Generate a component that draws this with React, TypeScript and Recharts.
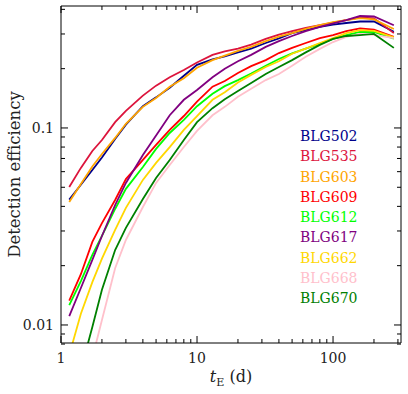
import { Legend, Line, LineChart, XAxis, YAxis } from "recharts";

// Einstein timescale grid (days)
const tE = [1.15, 1.4, 1.7, 2, 2.5, 3, 4, 5, 6.3, 8, 10, 13, 16, 20, 25, 32, 40, 50, 63, 80, 100, 125, 158, 200, 280];

// detection efficiency per field
const BLG502 = [0.0433, 0.0515, 0.0612, 0.0708, 0.0879, 0.104, 0.129, 0.143, 0.16, 0.184, 0.209, 0.223, 0.231, 0.242, 0.253, 0.27, 0.285, 0.303, 0.314, 0.326, 0.335, 0.341, 0.347, 0.347, 0.308];
const BLG535 = [0.0502, 0.0627, 0.0764, 0.0869, 0.107, 0.122, 0.146, 0.164, 0.181, 0.197, 0.215, 0.235, 0.245, 0.253, 0.265, 0.283, 0.298, 0.31, 0.322, 0.333, 0.343, 0.353, 0.364, 0.36, 0.303];
const BLG603 = [0.0421, 0.0519, 0.0638, 0.0738, 0.089, 0.105, 0.128, 0.142, 0.162, 0.179, 0.202, 0.221, 0.233, 0.246, 0.258, 0.276, 0.291, 0.303, 0.318, 0.333, 0.345, 0.353, 0.361, 0.356, 0.318];
const BLG609 = [0.0133, 0.0181, 0.0264, 0.0329, 0.0431, 0.055, 0.0688, 0.082, 0.0977, 0.115, 0.136, 0.162, 0.173, 0.19, 0.206, 0.221, 0.24, 0.255, 0.27, 0.286, 0.296, 0.31, 0.32, 0.316, 0.29];
const BLG612 = [0.0126, 0.0167, 0.0227, 0.0283, 0.0388, 0.0491, 0.0634, 0.0783, 0.0943, 0.11, 0.129, 0.149, 0.163, 0.175, 0.189, 0.207, 0.224, 0.239, 0.253, 0.267, 0.283, 0.296, 0.307, 0.307, 0.284];
const BLG617 = [0.0111, 0.0154, 0.0214, 0.0283, 0.0406, 0.0526, 0.0729, 0.0916, 0.116, 0.139, 0.156, 0.181, 0.2, 0.218, 0.235, 0.258, 0.276, 0.293, 0.31, 0.326, 0.34, 0.353, 0.37, 0.368, 0.332];
const BLG662 = [0.00705, 0.0114, 0.0165, 0.0217, 0.0304, 0.0393, 0.0545, 0.0665, 0.08, 0.0977, 0.115, 0.139, 0.152, 0.17, 0.186, 0.204, 0.218, 0.238, 0.253, 0.27, 0.286, 0.303, 0.314, 0.311, 0.288];
const BLG668 = [0.00226, 0.00393, 0.0068, 0.0106, 0.0194, 0.027, 0.0397, 0.0526, 0.0649, 0.08, 0.0966, 0.116, 0.128, 0.144, 0.158, 0.175, 0.188, 0.207, 0.23, 0.252, 0.273, 0.29, 0.3, 0.297, 0.286];
const BLG670 = [0.00345, 0.00592, 0.00977, 0.0151, 0.024, 0.0311, 0.0436, 0.0557, 0.0688, 0.0869, 0.107, 0.126, 0.14, 0.154, 0.169, 0.188, 0.204, 0.221, 0.242, 0.264, 0.283, 0.293, 0.296, 0.3, 0.255];

const fields = ["BLG502", "BLG535", "BLG603", "BLG609", "BLG612", "BLG617", "BLG662", "BLG668", "BLG670"];
const values = [BLG502, BLG535, BLG603, BLG609, BLG612, BLG617, BLG662, BLG668, BLG670];
const colors = ["#00008b", "#dc143c", "#ffa500", "#ff0000", "#00ff00", "#800080", "#ffd700", "#ffc0cb", "#008000"];

const xMajor = [1, 10, 100];
const xMinor = [2, 3, 4, 5, 6, 7, 8, 9, 20, 30, 40, 50, 60, 70, 80, 90, 200, 300];
const yMajor = [0.01, 0.1];
const yMinor = [0.008, 0.009, 0.02, 0.03, 0.04, 0.05, 0.06, 0.07, 0.08, 0.09, 0.2, 0.3, 0.4];

const data = tE.map((t, i) => {
  const row: Record<string, number> = { tE: t };
  fields.forEach((f, k) => {
    row[f] = values[k][i];
  });
  return row;
});

const FONT = "'DejaVu Serif', serif";

function XTick({ x, y, payload, side }: any) {
  const major = xMajor.includes(payload.value);
  const len = major ? 7 : 4;
  const dir = side === "bottom" ? -1 : 1;
  return (
    <g>
      <line x1={x} x2={x} y1={y} y2={y + dir * len} stroke="#000" strokeWidth={1} />
      {side === "bottom" && major && (
        <text x={x} y={y + 20} textAnchor="middle" fontSize={14} style={{ fontFamily: FONT }} fill="#222">
          {String(payload.value)}
        </text>
      )}
    </g>
  );
}

function YTick({ x, y, payload, side }: any) {
  const major = yMajor.includes(payload.value);
  const len = major ? 7 : 4;
  const dir = side === "left" ? 1 : -1;
  return (
    <g>
      <line x1={x} x2={x + dir * len} y1={y} y2={y} stroke="#000" strokeWidth={1} />
      {side === "left" && major && (
        <text x={x - 7} y={y + 5} textAnchor="end" fontSize={14} style={{ fontFamily: FONT }} fill="#222">
          {String(payload.value)}
        </text>
      )}
    </g>
  );
}

function XLabel({ viewBox }: any) {
  const cx = viewBox.x + viewBox.width / 2;
  return (
    <text x={cx} y={viewBox.y + 39} textAnchor="middle" fontSize={16} style={{ fontFamily: FONT }} fill="#222">
      <tspan fontStyle="italic">t</tspan>
      <tspan fontSize={11} dy={4}>E</tspan>
      <tspan dy={-4}> (d)</tspan>
    </text>
  );
}

function YLabel({ viewBox }: any) {
  const cy = viewBox.y + viewBox.height / 2;
  return (
    <text
      x={20}
      y={cy}
      transform={`rotate(-90 20 ${cy})`}
      textAnchor="middle"
      fontSize={16.5}
      style={{ fontFamily: FONT }}
      fill="#222"
    >
      Detection efficiency
    </text>
  );
}

function FieldLegend({ payload }: any) {
  return (
    <div>
      {(payload || []).map((p: any) => (
        <div
          key={p.value}
          style={{ color: p.color, fontSize: 14, lineHeight: "20.3px", fontFamily: FONT, whiteSpace: "nowrap" }}
        >
          {p.value}
        </div>
      ))}
    </div>
  );
}

export default function App() {
  return (
    <div style={{ position: "absolute", left: 0, top: 0 }}>
      <LineChart width={408} height={394} data={data} margin={{ top: 0, right: 0, bottom: 0, left: 0 }}>
        <XAxis
          dataKey="tE"
          type="number"
          scale="log"
          domain={[1, 316]}
          allowDataOverflow
          ticks={[...xMajor, ...xMinor]}
          interval={0}
          height={51}
          tickSize={0}
          tickMargin={0}
          stroke="#000"
          tick={(p: any) => <XTick {...p} side="bottom" />}
          label={XLabel}
        />
        <XAxis
          xAxisId="top"
          orientation="top"
          dataKey="tE"
          type="number"
          scale="log"
          domain={[1, 316]}
          allowDataOverflow
          ticks={[...xMajor, ...xMinor]}
          interval={0}
          height={6}
          tickSize={0}
          tickMargin={0}
          stroke="#000"
          tick={(p: any) => <XTick {...p} side="top" />}
        />
        <YAxis
          type="number"
          scale="log"
          domain={[0.0081, 0.416]}
          allowDataOverflow
          ticks={[...yMajor, ...yMinor]}
          interval={0}
          width={61}
          tickSize={0}
          tickMargin={0}
          stroke="#000"
          tick={(p: any) => <YTick {...p} side="left" />}
          label={YLabel}
        />
        <YAxis
          yAxisId="right"
          orientation="right"
          type="number"
          scale="log"
          domain={[0.0081, 0.416]}
          allowDataOverflow
          ticks={[...yMajor, ...yMinor]}
          interval={0}
          width={7}
          tickSize={0}
          tickMargin={0}
          stroke="#000"
          tick={(p: any) => <YTick {...p} side="right" />}
        />
        {fields.map((f, k) => (
          <Line
            key={f}
            dataKey={f}
            name={f}
            type="linear"
            stroke={colors[k]}
            strokeWidth={1.8}
            dot={false}
            isAnimationActive={false}
          />
        ))}
        <Legend
          layout="vertical"
          align="center"
          verticalAlign="middle"
          wrapperStyle={{ position: "absolute", left: 300, top: 126, width: 80 }}
          content={FieldLegend}
        />
      </LineChart>
    </div>
  );
}
